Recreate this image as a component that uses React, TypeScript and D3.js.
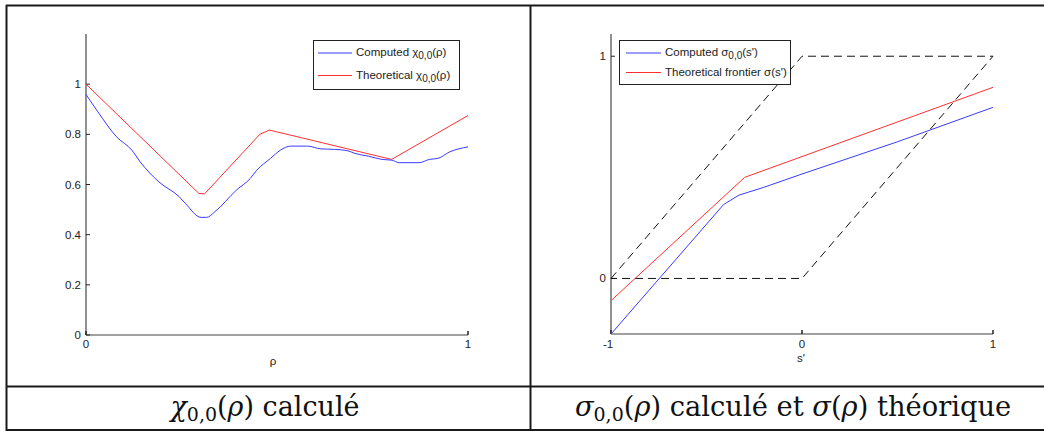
import React from "react";
import * as d3 from "d3";

// ---- Left chart data ----
const chiRho = [0, 0.031, 0.08, 0.12, 0.142, 0.191, 0.244, 0.26, 0.301, 0.316, 0.337, 0.394, 0.43, 0.447, 0.483, 0.509, 0.536, 0.58, 0.615, 0.651, 0.686, 0.704, 0.739, 0.775, 0.801, 0.819, 0.872, 0.899, 0.921, 0.952, 1.0];
const chiComputed = [0.959, 0.89, 0.79, 0.737, 0.69, 0.61, 0.551, 0.525, 0.469, 0.469, 0.491, 0.578, 0.624, 0.657, 0.704, 0.737, 0.753, 0.753, 0.742, 0.74, 0.734, 0.724, 0.713, 0.7, 0.697, 0.687, 0.687, 0.7, 0.704, 0.73, 0.75];
const chiTheoRho = [0, 0.295, 0.31, 0.455, 0.48, 0.8, 1.0];
const chiTheo = [1.0, 0.565, 0.562, 0.8, 0.817, 0.7, 0.875];
const leftYTicks = [0, 0.2, 0.4, 0.6, 0.8, 1];
const leftXTicks = [0, 1];

// ---- Right chart data ----
const sigS = [-1, -0.41, -0.33, -0.2, 0, 0.5, 1];
const sigComputed = [-0.25, 0.333, 0.375, 0.41, 0.47, 0.615, 0.77];
const sigTheoS = [-1, -0.3, 1];
const sigTheo = [-0.1, 0.455, 0.86];
const boundS = [-1, 0, 1, 0, -1];
const boundY = [0, 1, 1, 0, 0];
const rightYTicks = [0, 1];
const rightXTicks = [-1, 0, 1];

const BLUE = "#3a3aff";
const RED = "#ff3030";
const sans = "'Liberation Sans', Arial, sans-serif";
const serif = "'DejaVu Serif', serif";

export default function App() {
  // left scales
  const lx = d3.scaleLinear().domain([0, 1]).range([86, 468]);
  const ly = d3.scaleLinear().domain([0, 1.2]).range([335, 34]);
  // right scales
  const rx = d3.scaleLinear().domain([-1, 1]).range([611, 993]);
  const ry = d3.scaleLinear().domain([-0.25, 1.1]).range([334, 34]);

  const lineL = d3.line<[number, number]>().x((d) => lx(d[0])).y((d) => ly(d[1])).curve(d3.curveMonotoneX);
  const lineLT = d3.line<[number, number]>().x((d) => lx(d[0])).y((d) => ly(d[1]));
  const lineR = d3.line<[number, number]>().x((d) => rx(d[0])).y((d) => ry(d[1]));

  const zip = (a: number[], b: number[]) => a.map((v, i) => [v, b[i]] as [number, number]);

  return (
    <svg width={1044} height={432} style={{ position: "absolute", left: 0, top: 0, background: "#fff" }}>
      <rect x={0} y={0} width={1044} height={432} fill="#fff" />
      {/* table borders */}
      <g stroke="#1a1a1a" strokeWidth={2} fill="none">
        <line x1={6} y1={5.5} x2={1044} y2={5.5} />
        <line x1={6.5} y1={5} x2={6.5} y2={431} />
        <line x1={530.5} y1={5} x2={530.5} y2={431} />
        <line x1={6} y1={386.5} x2={1044} y2={386.5} />
        <line x1={6} y1={430} x2={1044} y2={430} />
      </g>

      {/* ---- Left chart ---- */}
      <g>
        <line x1={lx(0)} y1={ly(0)} x2={lx(1)} y2={ly(0)} stroke="#808080" strokeWidth={1.5} />
        <line x1={lx(0)} y1={ly(0)} x2={lx(0)} y2={ly(1.2)} stroke="#222" strokeWidth={1} />
        {leftYTicks.map((t) => (
          <g key={"ly" + t}>
            <line x1={lx(0)} x2={lx(0) + 4} y1={ly(t)} y2={ly(t)} stroke="#222" />
            <text x={81} y={ly(t)} dy="0.35em" textAnchor="end" fontFamily={sans} fontSize={11.5} fill="#222">{t}</text>
          </g>
        ))}
        {leftXTicks.map((t) => (
          <g key={"lx" + t}>
            <line x1={lx(t)} x2={lx(t)} y1={ly(0)} y2={ly(0) - 4} stroke="#222" strokeWidth={1.5} />
            <text x={lx(t)} y={348} textAnchor="middle" fontFamily={sans} fontSize={11.5} fill="#222">{t}</text>
          </g>
        ))}
        <text x={273} y={365} textAnchor="middle" fontFamily={sans} fontSize={11.5} fill="#222">ρ</text>
        <path d={lineLT(zip(chiTheoRho, chiTheo)) || ""} fill="none" stroke={RED} strokeWidth={1} />
        <path d={lineL(zip(chiRho, chiComputed)) || ""} fill="none" stroke={BLUE} strokeWidth={1} />
        {/* legend */}
        <rect x={313.5} y={40.5} width={146} height={49} fill="#fff" stroke="#222" strokeWidth={1} />
        <line x1={318} x2={352} y1={53} y2={53} stroke={BLUE} />
        <line x1={318} x2={352} y1={75.5} y2={75.5} stroke={RED} />
        <text x={356} y={56} fontFamily={sans} fontSize={11.5} fill="#222">
          Computed χ<tspan fontSize={10} dy={3}>0,0</tspan><tspan dy={-3}>(ρ)</tspan>
        </text>
        <text x={356} y={79} fontFamily={sans} fontSize={11.5} fill="#222">
          Theoretical χ<tspan fontSize={10} dy={3}>0,0</tspan><tspan dy={-3}>(ρ)</tspan>
        </text>
      </g>

      {/* ---- Right chart ---- */}
      <g>
        <line x1={rx(-1)} y1={334} x2={rx(1)} y2={334} stroke="#808080" strokeWidth={1.5} />
        <line x1={rx(-1)} y1={334} x2={rx(-1)} y2={ry(1.1)} stroke="#222" strokeWidth={1} />
        {rightYTicks.map((t) => (
          <g key={"ry" + t}>
            <line x1={rx(-1)} x2={rx(-1) + 4} y1={ry(t)} y2={ry(t)} stroke="#222" />
            <text x={606} y={ry(t)} dy="0.35em" textAnchor="end" fontFamily={sans} fontSize={11.5} fill="#222">{t}</text>
          </g>
        ))}
        {rightXTicks.map((t) => (
          <g key={"rx" + t}>
            <line x1={rx(t)} x2={rx(t)} y1={334} y2={330} stroke="#222" strokeWidth={1.5} />
            <text x={rx(t) - (t < 0 ? 3 : 0)} y={348} textAnchor="middle" fontFamily={sans} fontSize={11.5} fill="#222">{t}</text>
          </g>
        ))}
        <text x={801} y={362} textAnchor="middle" fontFamily={sans} fontSize={11.5} fill="#222">s'</text>
        <path d={lineR(zip(boundS, boundY)) || ""} fill="none" stroke="#111" strokeWidth={1} strokeDasharray="8,5" />
        <path d={lineR(zip(sigTheoS, sigTheo)) || ""} fill="none" stroke={RED} strokeWidth={1} />
        <path d={lineR(zip(sigS, sigComputed)) || ""} fill="none" stroke={BLUE} strokeWidth={1} />
        {/* legend */}
        <rect x={619.5} y={40.5} width={171} height={44} fill="#fff" stroke="#222" strokeWidth={1} />
        <line x1={626} x2={661} y1={53} y2={53} stroke={BLUE} />
        <line x1={626} x2={661} y1={72.5} y2={72.5} stroke={RED} />
        <text x={665} y={56} fontFamily={sans} fontSize={11.5} fill="#222">
          Computed σ<tspan fontSize={10} dy={3}>0,0</tspan><tspan dy={-3}>(s')</tspan>
        </text>
        <text x={665} y={76} fontFamily={sans} fontSize={11.5} fill="#222">Theoretical frontier σ(s')</text>
      </g>

      {/* captions */}
      <text x={265} y={416} textAnchor="middle" fontFamily={serif} fontSize={27} fill="#111">
        <tspan fontStyle="italic">χ</tspan>
        <tspan fontSize={19} dy={5}>0,0</tspan>
        <tspan dy={-5}>(</tspan>
        <tspan fontStyle="italic">ρ</tspan>
        <tspan>) calculé</tspan>
      </text>
      <text x={793} y={416} textAnchor="middle" fontFamily={serif} fontSize={27.3} fill="#111">
        <tspan fontStyle="italic">σ</tspan>
        <tspan fontSize={19} dy={5}>0,0</tspan>
        <tspan dy={-5}>(</tspan>
        <tspan fontStyle="italic">ρ</tspan>
        <tspan>) calculé et </tspan>
        <tspan fontStyle="italic">σ</tspan>
        <tspan>(</tspan>
        <tspan fontStyle="italic">ρ</tspan>
        <tspan>) théorique</tspan>
      </text>
    </svg>
  );
}
